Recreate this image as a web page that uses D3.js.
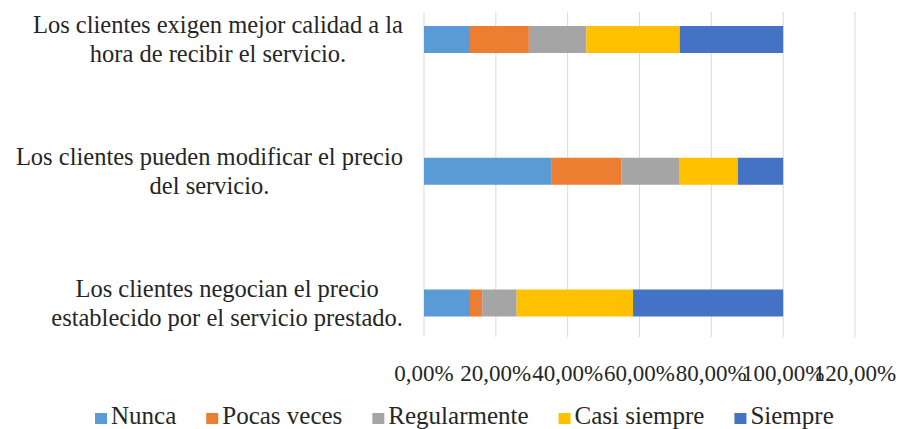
<!DOCTYPE html>
<html>
<head>
<meta charset="utf-8">
<script src="https://cdn.jsdelivr.net/npm/d3@7"></script>
<style>
  body { margin: 0; background: #fff; }
</style>
</head>
<body>
<svg id="chart" width="903" height="429"></svg>
<script>
// categories, top to bottom, as printed (line breaks as in the picture)
const categories = [
  ["Los clientes exigen mejor calidad a la", "hora de recibir el servicio."],
  ["Los clientes pueden modificar el precio", "del servicio."],
  ["Los clientes negocian el precio", "establecido por el servicio prestado."]
];
const seriesNames = ["Nunca", "Pocas veces", "Regularmente", "Casi siempre", "Siempre"];
// percentages per category (same order as categories)
const nunca        = [12.8, 35.4, 12.8];
const pocasVeces   = [16.4, 19.5, 3.4];
const regularmente = [16.0, 16.1, 9.6];
const casiSiempre  = [26.0, 16.4, 32.4];
const siempre      = [28.8, 12.6, 41.8];
const tickValues = [0, 20, 40, 60, 80, 100, 120];
const colors = ["#5B9BD5", "#ED7D31", "#A5A5A5", "#FFC000", "#4472C4"];

const FONT = "'Liberation Serif', 'DejaVu Serif', serif";
const svg = d3.select("#chart");

// plot geometry
const plot = { left: 424, right: 855, top: 12, bottom: 337 };

const x = d3.scaleLinear().domain([0, 120]).range([plot.left, plot.right]);
const keys = categories.map((c, i) => "c" + i);
const y = d3.scalePoint().domain(keys).range([39.5, 303]);
const barH = 27;

// build table for stacking
const table = keys.map((k, i) => ({
  key: k,
  "Nunca": nunca[i],
  "Pocas veces": pocasVeces[i],
  "Regularmente": regularmente[i],
  "Casi siempre": casiSiempre[i],
  "Siempre": siempre[i]
}));
const stacked = d3.stack().keys(seriesNames)(table);

// gridlines
svg.append("g")
  .selectAll("line")
  .data(tickValues)
  .join("line")
  .attr("x1", d => x(d)).attr("x2", d => x(d))
  .attr("y1", plot.top).attr("y2", plot.bottom)
  .attr("stroke", "#D9D9D9")
  .attr("stroke-width", 1);

// bars
svg.append("g")
  .selectAll("g")
  .data(stacked)
  .join("g")
  .attr("fill", (d, i) => colors[i])
  .selectAll("rect")
  .data(d => d)
  .join("rect")
  .attr("x", d => x(d[0]))
  .attr("width", d => x(d[1]) - x(d[0]))
  .attr("y", d => y(d.data.key) - barH / 2)
  .attr("height", barH);

// x tick labels
const fmt = v => v.toFixed(2).replace(".", ",") + "%";
svg.append("g")
  .selectAll("text")
  .data(tickValues)
  .join("text")
  .attr("x", d => x(d))
  .attr("y", 381)
  .attr("text-anchor", "middle")
  .attr("font-family", FONT)
  .attr("font-size", 23)
  .attr("fill", "#262626")
  .text(d => fmt(d));

// category labels: lines centred inside a block whose right edge is fixed
const labelRight = 403;
const lineGap = 29;
categories.forEach((lines, i) => {
  const g = svg.append("g");
  const texts = lines.map(l => g.append("text")
    .attr("font-family", FONT)
    .attr("font-size", 24.5)
    .attr("fill", "#262626")
    .text(l));
  const widths = texts.map(t => t.node().getComputedTextLength());
  const blockW = d3.max(widths);
  const cx = labelRight - blockW / 2;
  const cy = y(keys[i]);
  const first = cy - (lines.length - 1) * lineGap / 2 + 8;
  texts.forEach((t, j) => {
    t.attr("x", cx).attr("y", first + j * lineGap).attr("text-anchor", "middle");
  });
});

// legend
const legend = svg.append("g");
let lx = 95;
seriesNames.forEach((name, i) => {
  legend.append("rect")
    .attr("x", lx).attr("y", 413)
    .attr("width", 12).attr("height", 11)
    .attr("fill", colors[i]);
  const t = legend.append("text")
    .attr("x", lx + 16).attr("y", 423.5)
    .attr("font-family", FONT)
    .attr("font-size", 25)
    .attr("fill", "#262626")
    .text(name);
  lx += 16 + t.node().getComputedTextLength() + 30;
});
</script>
</body>
</html>
